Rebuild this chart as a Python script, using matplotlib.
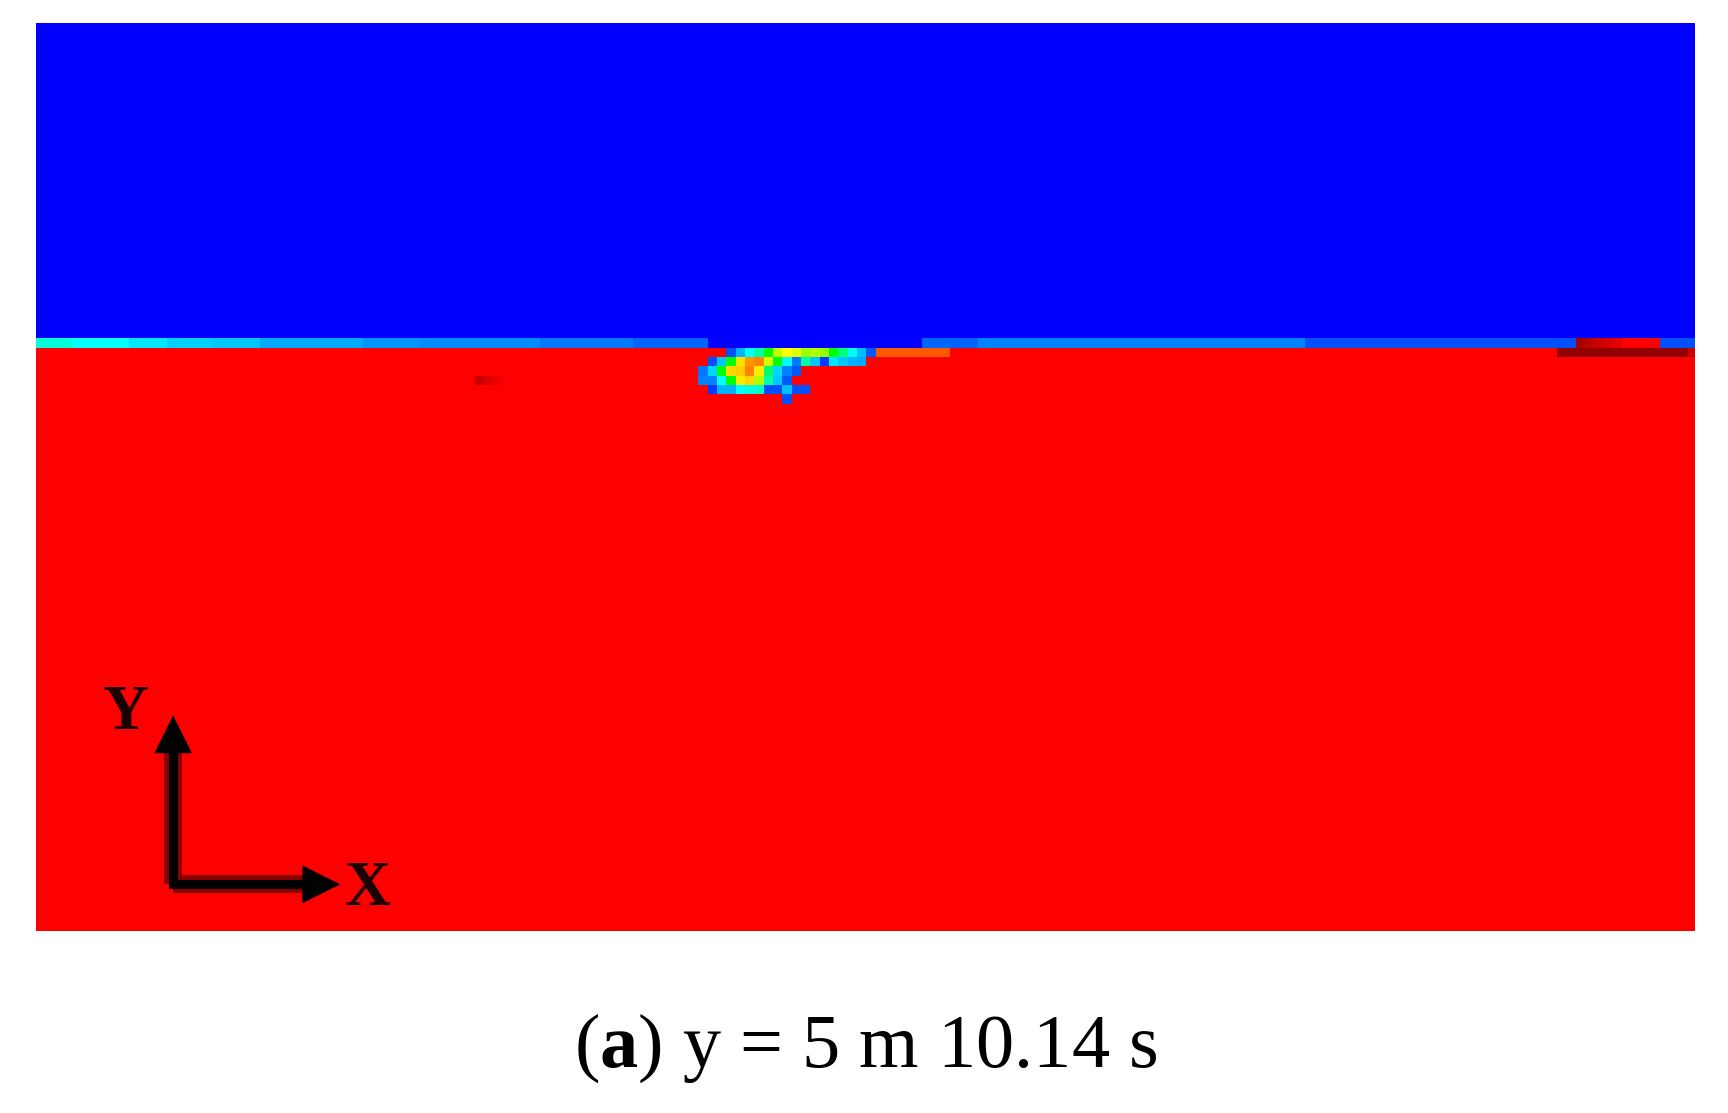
import numpy as np
import matplotlib
matplotlib.use('Agg')
import matplotlib.pyplot as plt
from matplotlib.colors import LinearSegmentedColormap, Normalize

plt.rcParams['mathtext.fontset'] = 'custom'
plt.rcParams['mathtext.rm'] = 'Liberation Serif'
plt.rcParams['mathtext.bf'] = 'Liberation Serif:bold'

# grid of cells (columns x rows), row 0 at the top
nx, ny = 178, 98
air_value = 0.0
water_value = 1.0
first_water_row = 35
interface_row = 34

# interface row: (first col, last col, value)
interface_runs = [
    (0, 3, 0.29), (4, 9, 0.25), (10, 13, 0.225), (14, 18, 0.206),
    (19, 23, 0.196), (24, 34, 0.167), (35, 40, 0.147), (41, 53, 0.137),
    (54, 63, 0.118), (64, 71, 0.10), (72, 94, 0.0), (95, 100, 0.098),
    (101, 135, 0.127), (136, 164, 0.083), (174, 177, 0.083),
]
# dark red cells on the interface row near the right wall
interface_red_start = 165
interface_red = [1.17, 1.13, 1.10, 1.08, 1.05, 1.0, 1.0, 1.0, 1.0]

# air pocket (bubble) under the free surface: row -> (first col, values)
bubble_rows = {
    35: (74, [0.08, 0.18, 0.25, 0.34, 0.50, 0.69, 0.75, 0.72, 0.65, 0.67,
              0.64, 0.50, 0.38, 0.26, 0.19, 0.09,
              0.91, 0.91, 0.91, 0.91, 0.91, 0.91, 0.91, 0.91]),
    36: (72, [0.08, 0.20, 0.50, 0.78, 0.85, 0.87, 0.71, 0.50, 0.25, 0.12,
              0.34, 0.20, 0.06, 0.225, 0.20, 0.18, 0.17]),
    37: (71, [0.12, 0.21, 0.50, 0.79, 0.80, 0.87, 0.77, 0.40, 0.21, 0.13, 0.09]),
    38: (71, [0.13, 0.13, 0.25, 0.50, 0.77, 0.79, 0.67, 0.33, 0.20, 0.09]),
    39: (72, [0.06, 0.18, 0.18, 0.25, 0.28, 0.30, 0.08, 0.08, 0.19, 0.08, 0.08]),
    40: (80, [0.08]),
}
# darker red patches inside the water
dark_rows = {
    35: (163, [1.21] * 14 + [1.09]),
    38: (47, [1.11, 1.06, 1.03]),
}

field = np.full((ny, nx), water_value)
field[:first_water_row, :] = air_value
for c0, c1, v in interface_runs:
    field[interface_row, c0:c1 + 1] = v
field[interface_row, interface_red_start:interface_red_start + len(interface_red)] = interface_red
for r, (c0, vals) in list(bubble_rows.items()) + list(dark_rows.items()):
    field[r, c0:c0 + len(vals)] = vals

cmap = LinearSegmentedColormap.from_list('fluent', [
    (0.0, (0, 0, 1)), (0.2, (0, 1, 1)), (0.4, (0, 1, 0)),
    (0.6, (1, 1, 0)), (0.8, (1, 0, 0)), (1.0, (0.5, 0, 0))])

fig = plt.figure(figsize=(17.28, 11.13), dpi=100)
ax = fig.add_axes([36 / 1728, 182 / 1113, 1659 / 1728, 908 / 1113])
ax.imshow(field, cmap=cmap, norm=Normalize(0, 1.25), interpolation='nearest',
          extent=(0, nx, ny, 0), aspect='auto')
ax.set_xlim(0, 177.8)
ax.set_ylim(97.5, 0.2)
ax.axis('off')

# coordinate triad
corner = (14.7, 92.5)
arms = [(14.7, 77.5), (29.5, 92.5)]
tips = [(14.7, 74.4), (32.6, 92.5)]
for arm in arms:
    ax.plot([corner[0], arm[0]], [corner[1], arm[1]], color='#8a0000', lw=13,
            solid_capstyle='butt')
ax.plot([corner[0], arms[0][0]], [corner[1], arms[0][1]], color='black', lw=6.5,
        solid_capstyle='projecting')
ax.plot([corner[0], arms[1][0]], [corner[1], arms[1][1]], color='black', lw=6.5,
        solid_capstyle='projecting')
for tip in tips:
    ax.annotate('', xy=tip, xytext=corner,
                arrowprops=dict(arrowstyle='-|>,head_length=0.8,head_width=0.4',
                                mutation_scale=30, lw=2, color='black',
                                shrinkA=0, shrinkB=0, joinstyle='miter'))
ax.text(9.6, 74.2, 'Y', family='Liberation Serif', weight='bold', fontsize=46,
        color='#1a0000', ha='center', va='center')
ax.text(35.6, 93.1, 'X', family='Liberation Serif', weight='bold', fontsize=46,
        color='#1a0000', ha='center', va='center')

fig.text(866 / 1728, 46 / 1113, r'($\mathbf{a}$) y = 5 m 10.14 s',
         family='Liberation Serif', fontsize=55, ha='center', va='baseline')

fig.savefig('out.png', dpi=100)
